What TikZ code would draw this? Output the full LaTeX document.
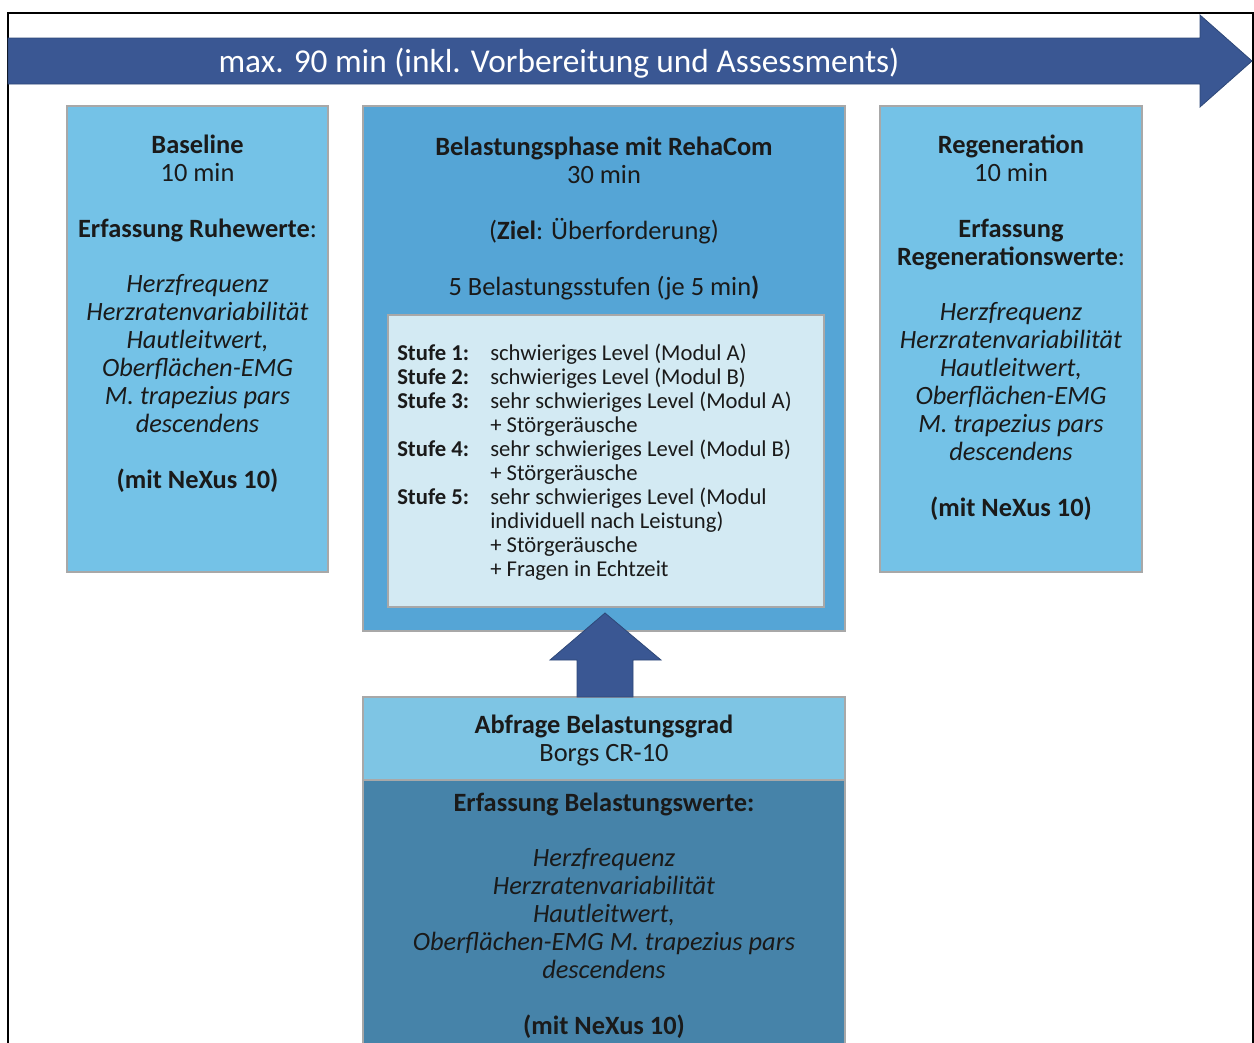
\documentclass[tikz,border=0pt]{standalone}
\usepackage{fontspec}
\setmainfont{Carlito}
\usetikzlibrary{calc,fit}

\definecolor{HeadBlue}{HTML}{3A5793}
\definecolor{HeadEdge}{HTML}{2E4878}
\definecolor{PhaseBlue}{HTML}{74C2E7}
\definecolor{LoadBlue}{HTML}{55A5D6}
\definecolor{StepBlue}{HTML}{D3EAF3}
\definecolor{QueryBlue}{HTML}{7EC5E4}
\definecolor{ValueBlue}{HTML}{4683A9}
\definecolor{BoxEdge}{HTML}{A8A8A8}
\definecolor{InkGray}{HTML}{1A1A1A}

\tikzset{
  phasebox/.style={draw=BoxEdge, line width=1.2pt, inner sep=0pt, outer sep=0pt},
  % anchored at the baseline of the last line
  boxtext/.style={anchor=base, align=center, inner sep=0pt, text=InkGray,
    font=\fontsize{19.8}{20.9}\selectfont},
  blockarrow/.style={draw=HeadEdge, fill=HeadBlue, line width=0.6pt, line join=miter},
}

\begin{document}
\begin{tikzpicture}[x=0.75pt,y=-0.75pt]
    \useasboundingbox (0,0) rectangle (1254,1043);

    % frame
    \draw[line width=1.5pt] (8,1046) -- (8,13) -- (1253,13) -- (1253,1046);

    % time line on top
    \draw[blockarrow] (8,38) -- (1200,38) -- (1200,15) -- (1252,61) -- (1200,107) -- (1200,84) -- (8,84) -- cycle;
    \node[anchor=base, inner sep=0pt, text=white, font=\fontsize{25}{28}\selectfont] (total) at (559,72)
        {max. 90 min (inkl. Vorbereitung und Assessments)};

    % the three phases
    \node[phasebox, fill=PhaseBlue, fit={(67,106) (328,572)}] (baseline) {};
    \node[phasebox, fill=LoadBlue, fit={(363,106) (845,631)}] (load) {};
    \node[phasebox, fill=StepBlue, fit={(388,315) (824,607)}] (steps) {};
    \node[phasebox, fill=PhaseBlue, fit={(880,106) (1142,572)}] (regen) {};

    % rating and measures below
    \node[phasebox, fill=QueryBlue, fit={(363,697) (845,780)}] (query) {};
    \node[phasebox, fill=ValueBlue, fit={(363,780) (845,1048)}] (values) {};

    \node[boxtext] (baselinetext) at (197.5,488) {%
        \textbf{Baseline}\\
        10 min\\[20.9pt]
        \textbf{Erfassung Ruhewerte}:\\[20.9pt]
        \textit{Herzfrequenz}\\
        \textit{Herzratenvariabilität}\\
        \textit{Hautleitwert,}\\
        \textit{Oberflächen-EMG}\\
        \textit{M. trapezius pars}\\
        \textit{descendens}\\[20.9pt]
        \textbf{(mit NeXus 10)}};

    \node[boxtext] (loadtext) at (604,295) {%
        \textbf{Belastungsphase mit RehaCom}\\
        30 min\\[20.9pt]
        (\textbf{Ziel}: Überforderung)\\[20.9pt]
        5 Belastungsstufen (je 5 min\textbf{)}};

    \node[anchor=north west, inner sep=0pt, text=InkGray, font=\fontsize{17}{18}\selectfont] (stufen) at (397,343) {%
        \begin{tabular}{@{}p{69.75pt}@{}l@{}}
        \textbf{Stufe 1:} & schwieriges Level (Modul A)\\
        \textbf{Stufe 2:} & schwieriges Level (Modul B)\\
        \textbf{Stufe 3:} & sehr schwieriges Level (Modul A)\\
                          & + Störgeräusche\\
        \textbf{Stufe 4:} & sehr schwieriges Level (Modul B)\\
                          & + Störgeräusche\\
        \textbf{Stufe 5:} & sehr schwieriges Level (Modul\\
                          & individuell nach Leistung)\\
                          & + Störgeräusche\\
                          & + Fragen in Echtzeit
        \end{tabular}};

    \node[boxtext] (regentext) at (1011,516) {%
        \textbf{Regeneration}\\
        10 min\\[20.9pt]
        \textbf{Erfassung}\\
        \textbf{Regenerationswerte}:\\[20.9pt]
        \textit{Herzfrequenz}\\
        \textit{Herzratenvariabilität}\\
        \textit{Hautleitwert,}\\
        \textit{Oberflächen-EMG}\\
        \textit{M. trapezius pars}\\
        \textit{descendens}\\[20.9pt]
        \textbf{(mit NeXus 10)}};

    \node[boxtext] (querytext) at (604,761) {%
        \textbf{Abfrage Belastungsgrad}\\
        Borgs CR-10};

    \node[boxtext] (valuestext) at (604,1034) {%
        \textbf{Erfassung Belastungswerte:}\\[20.9pt]
        \textit{Herzfrequenz}\\
        \textit{Herzratenvariabilität}\\
        \textit{Hautleitwert,}\\
        \textit{Oberflächen-EMG M. trapezius pars}\\
        \textit{descendens}\\[20.9pt]
        \textbf{(mit NeXus 10)}};

    % rating feeds the load phase
    \draw[blockarrow] ($(query.north)+(-27,0)$) -- ++(0,-37) -- ++(-27,0) -- ($(query.north)+(1,-84)$)
        -- ($(query.north)+(57,-37)$) -- ++(-28,0) -- ($(query.north)+(29,0)$) -- cycle;
\end{tikzpicture}
\end{document}
